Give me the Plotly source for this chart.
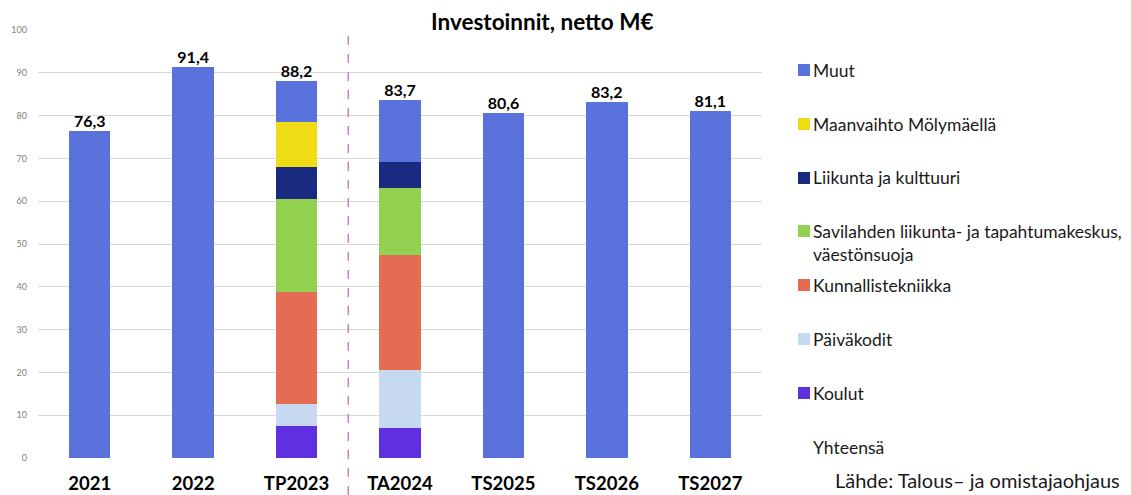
import plotly.graph_objects as go

categories = ["2021", "2022", "TP2023", "TA2024", "TS2025", "TS2026", "TS2027"]
koulut = [0, 0, 7.4, 6.9, 0, 0, 0]
paivakodit = [0, 0, 5.3, 13.6, 0, 0, 0]
kunnallistekniikka = [0, 0, 26.0, 27.0, 0, 0, 0]
savilahti = [0, 0, 21.8, 15.7, 0, 0, 0]
liikunta = [0, 0, 7.6, 6.0, 0, 0, 0]
maanvaihto = [0, 0, 10.4, 0, 0, 0, 0]
muut = [76.3, 91.4, 9.7, 14.5, 80.6, 83.2, 81.1]
totals = [76.3, 91.4, 88.2, 83.7, 80.6, 83.2, 81.1]

series = [
    ("Koulut", koulut, "#5f2fe0"),
    ("Päiväkodit", paivakodit, "#c6d9f1"),
    ("Kunnallistekniikka", kunnallistekniikka, "#e46c52"),
    ("Savilahden liikunta- ja tapahtumakeskus,<br>väestönsuoja", savilahti, "#92d050"),
    ("Liikunta ja kulttuuri", liikunta, "#1a2a80"),
    ("Maanvaihto Mölymäellä", maanvaihto, "#f0dc14"),
    ("Muut", muut, "#5a72dc"),
]

W, H = 1131, 495
L, R, T, B = 38, 762, 30, 458

def px(x):
    return (x - L) / (R - L)

def py(y):
    return (B - y) / (B - T)

FONT = "Lato"

fig = go.Figure()
for name, vals, col in series:
    fig.add_trace(go.Bar(
        x=categories, y=vals, name=name, marker_color=col,
        marker_line_width=0, showlegend=False,
    ))

fig.add_trace(go.Scatter(
    x=categories, y=totals, mode="text",
    text=[f"{v:.1f}".replace(".", ",") for v in totals],
    textposition="top center",
    textfont=dict(family=FONT, size=16, color="#000000", weight="bold"),
    showlegend=False, hoverinfo="skip", cliponaxis=False,
))

shapes = []
annotations = []

# divider between actuals and plan
shapes.append(dict(type="line", xref="x", yref="paper", x0=2.5, x1=2.5,
                   y0=py(495), y1=py(35),
                   line=dict(color="#d279c6", width=1.5, dash="dash")))

# legend (manual)
legend_items = [
    ("Muut", "#5a72dc", 70),
    ("Maanvaihto Mölymäellä", "#f0dc14", 124),
    ("Liikunta ja kulttuuri", "#1a2a80", 178),
    ("Savilahden liikunta- ja tapahtumakeskus,<br>väestönsuoja", "#92d050", 231),
    ("Kunnallistekniikka", "#e46c52", 285),
    ("Päiväkodit", "#c6d9f1", 339),
    ("Koulut", "#5f2fe0", 393),
    ("Yhteensä", None, 447),
]
for text, col, yc in legend_items:
    if col:
        shapes.append(dict(type="rect", xref="paper", yref="paper",
                           x0=px(798), x1=px(810), y0=py(yc + 6), y1=py(yc - 6),
                           fillcolor=col, line_width=0))
    annotations.append(dict(xref="paper", yref="paper", x=px(811), y=py(yc - 12.5),
                            xanchor="left", yanchor="top", align="left",
                            text=text, showarrow=False,
                            font=dict(family=FONT, size=17.5, color="#1a1a1a")))

annotations.append(dict(xref="paper", yref="paper", x=px(833), y=py(480),
                        xanchor="left", yanchor="middle",
                        text="Lähde: Talous– ja omistajaohjaus", showarrow=False,
                        font=dict(family=FONT, size=20, color="#1a1a1a")))

annotations.append(dict(xref="paper", yref="paper", x=px(542), y=py(21),
                        xanchor="center", yanchor="middle",
                        text="<b>Investoinnit, netto M€</b>", showarrow=False,
                        font=dict(family=FONT, size=22.5, color="#000000")))

fig.update_layout(
    width=W, height=H,
    margin=dict(l=L, r=W - R, t=T, b=H - B),
    barmode="stack", bargap=0.6,
    plot_bgcolor="white", paper_bgcolor="white",
    shapes=shapes, annotations=annotations,
    font=dict(family=FONT),
)
fig.update_yaxes(range=[0, 100], dtick=10, showgrid=True, gridcolor="#d9d9d9",
                 gridwidth=1, zeroline=False, showline=False, automargin=False,
                 tickfont=dict(family=FONT, size=9, color="#808080"),
                 ticklabelstandoff=10)
fig.update_xaxes(showline=False, automargin=False,
                 tickfont=dict(family=FONT, size=18.5, color="#000000", weight="bold"),
                 ticklabelstandoff=12)

fig.write_html("out.html", config={"displayModeBar": False},
               post_script="document.body.style.margin='0';document.body.style.overflow='hidden';")
